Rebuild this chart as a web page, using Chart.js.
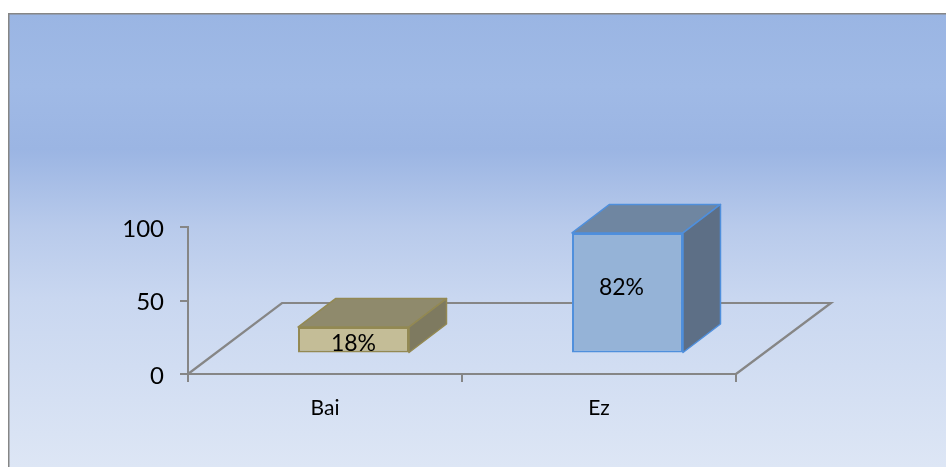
<!DOCTYPE html>
<html>
<head>
<meta charset="utf-8">
<style>
  html, body { margin: 0; padding: 0; background: #fff; }
  canvas { display: block; }
</style>
<script src="https://cdn.jsdelivr.net/npm/chart.js@4.4.1/dist/chart.umd.min.js"></script>
</head>
<body>
<canvas id="chart" width="946" height="467"></canvas>
<script>
const categories = ['Bai', 'Ez'];
const values = [18, 82];
const yTicks = [0, 50, 100];

const frontColors = ['#c4bd97', '#95b3d7'];
const topColors = ['#8f8a6c', '#6f86a1'];
const sideColors = ['#7e7a60', '#5d6f86'];
const edgeColors = ['#938953', '#4f8fdc'];
const labelNudge = [[0, 4], [-6, -5]];

const AXIS = '#868686';
const SHIFT = { x: 28.5, y: -20.5 };
const DEPTH = { x: 37.5, y: -28.5 };
const FLOOR = { x: 94, y: -71 };

const box3d = {
  id: 'box3d',
  beforeDraw(chart) {
    const { ctx, width, height } = chart;
    const g = ctx.createLinearGradient(0, 13, 0, height);
    g.addColorStop(0, '#9ab5e3');
    g.addColorStop(0.16, '#a0bae6');
    g.addColorStop(0.3, '#9bb5e3');
    g.addColorStop(0.47, '#b8caeb');
    g.addColorStop(0.63, '#c9d7f0');
    g.addColorStop(1, '#dde6f5');
    ctx.fillStyle = g;
    ctx.fillRect(8, 13, width - 8, height - 13);
    ctx.fillStyle = AXIS;
    ctx.fillRect(8, 13, width - 8, 1.5);
    ctx.fillRect(8, 13, 1.5, height - 13);
  },
  beforeDatasetsDraw(chart) {
    // floor of the 3d box
    const { ctx, chartArea: a } = chart;
    ctx.save();
    ctx.strokeStyle = AXIS;
    ctx.lineWidth = 2.2;
    ctx.beginPath();
    ctx.moveTo(a.left, a.bottom);
    ctx.lineTo(a.left + FLOOR.x, a.bottom + FLOOR.y);
    ctx.lineTo(a.right + FLOOR.x + 1, a.bottom + FLOOR.y);
    ctx.lineTo(a.right, a.bottom);
    ctx.stroke();
    ctx.restore();
  },
  beforeDatasetDraw(chart) {
    chart.ctx.save();
    chart.ctx.translate(SHIFT.x, SHIFT.y);
  },
  afterDatasetDraw(chart, args) {
    const { ctx } = chart;
    ctx.restore();
    args.meta.data.forEach((bar, i) => {
      const l = bar.x - bar.width / 2 + SHIFT.x;
      const r = bar.x + bar.width / 2 + SHIFT.x;
      const t = bar.y + SHIFT.y;
      const b = bar.base + SHIFT.y;
      ctx.strokeStyle = edgeColors[i];
      ctx.lineWidth = 1.5;
      ctx.lineJoin = 'round';

      ctx.fillStyle = topColors[i];
      ctx.beginPath();
      ctx.moveTo(l, t);
      ctx.lineTo(l + DEPTH.x, t + DEPTH.y);
      ctx.lineTo(r + DEPTH.x, t + DEPTH.y);
      ctx.lineTo(r, t);
      ctx.closePath();
      ctx.fill();
      ctx.stroke();

      ctx.fillStyle = sideColors[i];
      ctx.beginPath();
      ctx.moveTo(r, t);
      ctx.lineTo(r + DEPTH.x, t + DEPTH.y);
      ctx.lineTo(r + DEPTH.x, b + DEPTH.y);
      ctx.lineTo(r, b);
      ctx.closePath();
      ctx.fill();
      ctx.stroke();

      ctx.fillStyle = '#000';
      ctx.font = '23px Lato';
      ctx.textAlign = 'center';
      ctx.textBaseline = 'middle';
      ctx.fillText(values[i] + '%', (l + r) / 2 + labelNudge[i][0], (t + b) / 2 + labelNudge[i][1]);
    });
  }
};

new Chart(document.getElementById('chart'), {
  type: 'bar',
  data: {
    labels: categories,
    datasets: [{
      data: values,
      backgroundColor: frontColors,
      borderColor: edgeColors,
      borderWidth: 2,
      borderSkipped: false,
      categoryPercentage: 1,
      barPercentage: 0.405,
      clip: false
    }]
  },
  plugins: [box3d],
  options: {
    responsive: false,
    animation: false,
    layout: { padding: { left: 120, right: 210, top: 227, bottom: 23 } },
    plugins: { legend: { display: false }, tooltip: { enabled: false } },
    scales: {
      x: {
        afterFit: s => { s.height = 70; },
        grid: { drawOnChartArea: false, color: AXIS, lineWidth: 2, tickLength: 8, offset: true },
        border: { color: AXIS, width: 2 },
        ticks: { color: '#000', font: { family: 'Lato', size: 21 }, padding: 14, maxRotation: 0 }
      },
      y: {
        min: 0,
        max: 100,
        afterFit: s => { s.width = 68; },
        afterBuildTicks: s => { s.ticks = yTicks.map(v => ({ value: v })); },
        grid: { drawOnChartArea: false, color: AXIS, lineWidth: 2, tickLength: 8 },
        border: { color: AXIS, width: 2 },
        ticks: { color: '#000', font: { family: 'Lato', size: 24 }, padding: 16, labelOffset: 2 }
      }
    }
  }
});
</script>
</body>
</html>
